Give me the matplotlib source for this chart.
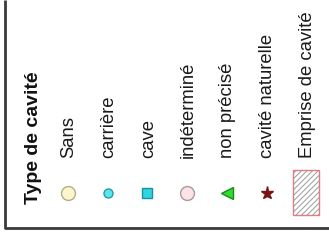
import matplotlib
matplotlib.use('Agg')
import matplotlib.pyplot as plt
from matplotlib.patches import Rectangle

plt.rcParams['font.family'] = ['Liberation Sans', 'DejaVu Sans']
plt.rcParams['hatch.linewidth'] = 0.7

# legend entries
title = 'Type de cavité'
labels = ['Sans', 'carrière', 'cave', 'indéterminé', 'non précisé', 'cavité naturelle', 'Emprise de cavité']
markers = ['o', 'o', 's', 'o', '<', '*']
sizes = [10, 6.5, 6.5, 10, 9, 9.5]
faces = ['#fbf6cc', '#5ae6ee', '#2ed6e2', '#fbe3e6', '#2edc2e', '#7a1414']
edges = ['#b3ae88', '#2a9aa0', '#1890a0', '#a89a9f', '#1a8a1a', '#7a1414']

fig = plt.figure(figsize=(3.29, 2.41), dpi=100)
ax = fig.add_axes([0, 0, 1, 1])
ax.set_xlim(0, 329)
ax.set_ylim(241, 0)
ax.axis('off')

# open frame: left and bottom lines only
ax.plot([5, 5, 329], [0, 228, 228], color='#3a3a3a', lw=2, solid_capstyle='butt')

ax.text(33, 204, title, rotation=90, ha='center', va='bottom',
        fontsize=14, fontweight='bold', color='#111111')

x0, step = 68, 39.7
for i, lab in enumerate(labels):
    x = x0 + i * step
    ax.text(x + 1, 158, lab, rotation=90, ha='center', va='bottom',
            fontsize=13.3, color='#1a1a1a')
    if i < len(markers):
        ax.plot(x, 193, marker=markers[i], markersize=sizes[i],
                markerfacecolor=faces[i], markeredgecolor=edges[i],
                markeredgewidth=1, linestyle='none')
    else:
        # polygon symbol: hatched box with pink outline
        ax.add_patch(Rectangle((x - 13, 170), 26, 45, facecolor='white',
                               edgecolor='#9a9a9a', hatch='//////', lw=0))
        ax.add_patch(Rectangle((x - 13, 170), 26, 45, facecolor='none',
                               edgecolor='#e07c84', lw=1))

fig.savefig('out.png', dpi=100)
